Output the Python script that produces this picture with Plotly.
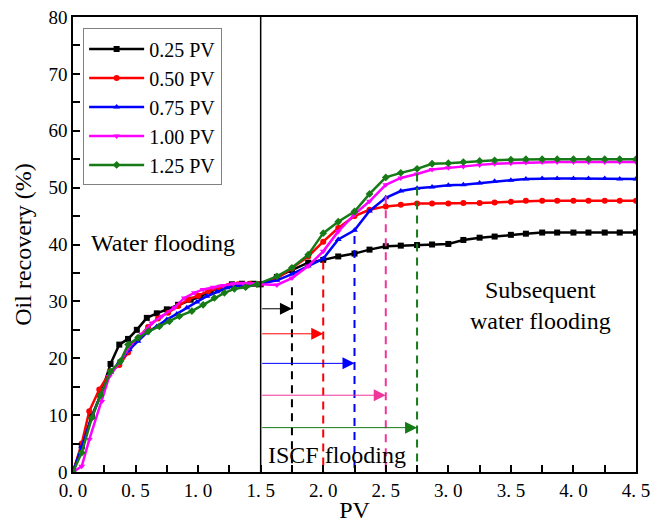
import plotly.graph_objects as go

# ---------------- data ----------------
series_names = ["0.25 PV", "0.50 PV", "0.75 PV", "1.00 PV", "1.25 PV"]

x_025 = [0, 0.07, 0.15, 0.22, 0.30, 0.37, 0.44, 0.51, 0.59, 0.67, 0.75, 0.84, 0.94, 1.02, 1.10, 1.18,
         1.27, 1.35, 1.44, 1.50, 1.63, 1.75, 1.88, 2.00, 2.12, 2.25, 2.37, 2.50, 2.62, 2.75, 2.87, 3.00,
         3.12, 3.25, 3.37, 3.50, 3.62, 3.75, 3.87, 4.00, 4.12, 4.25, 4.37, 4.50]
y_025 = [0, 4.5, 9.8, 13.5, 19.0, 22.4, 23.4, 25.0, 27.1, 27.9, 28.6, 29.4, 30.3, 30.9, 31.8, 32.4,
         33.0, 33.1, 33.1, 33.0, 34.3, 35.5, 36.8, 37.3, 37.9, 38.4, 39.1, 39.7, 39.8, 39.9, 40.0, 40.1,
         40.8, 41.2, 41.4, 41.7, 41.9, 42.1, 42.1, 42.1, 42.1, 42.1, 42.1, 42.1]

x_050 = [0, 0.07, 0.13, 0.21, 0.30, 0.37, 0.44, 0.52, 0.60, 0.68, 0.76, 0.84, 0.92, 1.00, 1.08, 1.16,
         1.24, 1.32, 1.41, 1.50, 1.63, 1.75, 1.88, 2.00, 2.12, 2.25, 2.37, 2.50, 2.62, 2.75, 2.87, 3.00,
         3.12, 3.25, 3.37, 3.50, 3.62, 3.75, 3.87, 4.00, 4.12, 4.25, 4.37, 4.50]
y_050 = [0, 5.0, 10.7, 14.5, 17.7, 18.8, 21.0, 23.5, 25.5, 27.0, 28.0, 29.2, 30.3, 31.0, 31.8, 32.3,
         32.7, 33.0, 33.1, 33.1, 34.0, 35.8, 37.9, 40.5, 42.9, 45.0, 46.1, 46.7, 47.0, 47.2, 47.2, 47.2,
         47.3, 47.3, 47.4, 47.5, 47.7, 47.7, 47.7, 47.7, 47.7, 47.7, 47.7, 47.7]

x_075 = [0, 0.07, 0.15, 0.22, 0.30, 0.37, 0.45, 0.52, 0.59, 0.67, 0.75, 0.83, 0.91, 0.99, 1.07, 1.15,
         1.23, 1.31, 1.40, 1.50, 1.63, 1.75, 1.88, 2.00, 2.12, 2.25, 2.37, 2.50, 2.62, 2.75, 2.87, 3.00,
         3.12, 3.25, 3.37, 3.50, 3.62, 3.75, 3.87, 4.00, 4.12, 4.25, 4.37, 4.50]
y_075 = [0, 4.5, 9.6, 13.5, 17.5, 19.3, 21.5, 23.0, 24.5, 25.6, 26.8, 27.8, 28.9, 29.9, 30.9, 31.7,
         32.4, 32.8, 33.0, 33.1, 33.7, 34.8, 36.2, 37.5, 40.9, 42.5, 45.9, 48.2, 49.4, 49.9, 50.1, 50.4,
         50.5, 50.8, 51.1, 51.3, 51.5, 51.6, 51.6, 51.6, 51.6, 51.6, 51.5, 51.5]

x_100 = [0, 0.07, 0.13, 0.23, 0.29, 0.38, 0.47, 0.55, 0.63, 0.71, 0.81, 0.89, 0.97, 1.04, 1.12, 1.20,
         1.28, 1.36, 1.45, 1.50, 1.63, 1.75, 1.88, 2.00, 2.12, 2.25, 2.37, 2.50, 2.62, 2.75, 2.87, 3.00,
         3.12, 3.25, 3.37, 3.50, 3.62, 3.75, 3.87, 4.00, 4.12, 4.25, 4.37, 4.50]
y_100 = [0, 1.0, 5.7, 12.4, 16.8, 19.5, 22.7, 24.2, 26.2, 27.4, 28.9, 30.6, 31.5, 32.1, 32.5, 32.8,
         33.1, 33.2, 33.1, 33.0, 32.9, 34.1, 36.2, 38.8, 42.3, 45.3, 47.6, 50.5, 51.7, 52.4, 53.2, 53.5,
         53.7, 54.0, 54.2, 54.3, 54.4, 54.5, 54.5, 54.5, 54.5, 54.5, 54.5, 54.5]

x_125 = [0, 0.07, 0.15, 0.22, 0.30, 0.38, 0.44, 0.52, 0.60, 0.69, 0.77, 0.85, 0.95, 1.04, 1.13, 1.21,
         1.29, 1.38, 1.47, 1.63, 1.75, 1.88, 2.00, 2.12, 2.25, 2.37, 2.50, 2.62, 2.75, 2.87, 3.00,
         3.12, 3.25, 3.37, 3.50, 3.62, 3.75, 3.87, 4.00, 4.12, 4.25, 4.37, 4.50]
y_125 = [0, 3.4, 9.5, 13.5, 17.7, 19.5, 22.4, 23.6, 24.7, 25.6, 26.5, 27.4, 28.3, 29.4, 30.6, 31.5,
         32.2, 32.5, 33.0, 34.4, 35.9, 38.2, 42.0, 44.0, 45.8, 48.9, 51.8, 52.6, 53.3, 54.2, 54.3,
         54.5, 54.7, 54.8, 54.9, 55.0, 55.0, 55.0, 55.0, 55.0, 55.0, 55.0, 55.0]

# end of ISCF injection for each slug, and where its guide line starts
slug_end_pv = [1.75, 2.00, 2.25, 2.50, 2.75]
guide_top = [32.5, 37.0, 41.5, 48.5, 52.5]
arrow_level = [28.7, 24.3, 19.1, 13.5, 7.8]
switch_pv = 1.5

x_ticks = [0.0, 0.5, 1.0, 1.5, 2.0, 2.5, 3.0, 3.5, 4.0, 4.5]
x_tick_text = ["0. 0", "0. 5", "1. 0", "1. 5", "2. 0", "2. 5", "3. 0", "3. 5", "4. 0", "4. 5"]
y_ticks = [0, 10, 20, 30, 40, 50, 60, 70, 80]

# ---------------- styling ----------------
line_colors = ["#000000", "#ff0000", "#0000ff", "#ff00ff", "#167a16"]
guide_colors = ["#000000", "#ff0000", "#0000ff", "#f0359a", "#167a16"]
symbols = ["square", "circle", "triangle-up", "triangle-down", "diamond"]
FONT = "Liberation Serif, Times New Roman, serif"

xs = [x_025, x_050, x_075, x_100, x_125]
ys = [y_025, y_050, y_075, y_100, y_125]

fig = go.Figure()

for name, x, y, c, s in zip(series_names, xs, ys, line_colors, symbols):
    fig.add_trace(go.Scatter(
        x=x, y=y, name=name, mode="lines+markers",
        line=dict(color=c, width=2.5),
        marker=dict(symbol=s, size=6, color=c),
    ))

# dashed guides marking the end of each ISCF slug
for xe, yt, c in zip(slug_end_pv, guide_top, guide_colors):
    fig.add_trace(go.Scatter(
        x=[xe, xe], y=[yt, 0], mode="lines", showlegend=False, hoverinfo="skip",
        line=dict(color=c, width=2, dash="8px,6px"),
    ))

# switch from water flooding to ISCF flooding
fig.add_trace(go.Scatter(
    x=[switch_pv, switch_pv], y=[0, 80], mode="lines", showlegend=False, hoverinfo="skip",
    line=dict(color="#000000", width=1.5),
))

# horizontal arrows spanning each slug
for xe, ya, c in zip(slug_end_pv, arrow_level, guide_colors):
    fig.add_annotation(
        x=xe, y=ya, ax=switch_pv, ay=ya, xref="x", yref="y", axref="x", ayref="y",
        text="", showarrow=True, arrowhead=2, arrowsize=2.4, arrowwidth=1, arrowcolor=c,
        standoff=0, startstandoff=0,
    )

# phase labels
fig.add_annotation(x=0.72, y=40.2, xref="x", yref="y", text="Water flooding",
                   showarrow=False, font=dict(family=FONT, size=24, color="#000"))
fig.add_annotation(x=2.11, y=3.0, xref="x", yref="y", text="ISCF flooding",
                   showarrow=False, font=dict(family=FONT, size=24, color="#000"))
fig.add_annotation(x=3.74, y=29.2, xref="x", yref="y", text="Subsequent<br>water flooding",
                   showarrow=False, align="center",
                   font=dict(family=FONT, size=24, color="#000"))

axis_common = dict(
    showline=True, linecolor="#000", linewidth=1.5, mirror=True,
    ticks="inside", ticklen=7, tickwidth=1.5, tickcolor="#000",
    showgrid=False, zeroline=False, automargin=False,
    tickfont=dict(family=FONT, size=19, color="#000"),
)

fig.update_xaxes(
    range=[0, 4.5], tickvals=x_ticks, ticktext=x_tick_text,
    minor=dict(ticks="inside", ticklen=7, tickwidth=1.5, tickcolor="#000", dtick=0.25, tick0=0),
    title=dict(text="PV", font=dict(family=FONT, size=24, color="#000"), standoff=2),
    **axis_common,
)
fig.update_yaxes(
    range=[0, 80], tickvals=y_ticks,
    minor=dict(ticks="inside", ticklen=7, tickwidth=1.5, tickcolor="#000", dtick=5, tick0=0),
    title=dict(text="Oil recovery (%)", font=dict(family=FONT, size=24, color="#000"), standoff=10),
    **axis_common,
)

fig.update_layout(
    width=652, height=529,
    margin=dict(l=73, r=16, t=17, b=57),
    paper_bgcolor="#ffffff", plot_bgcolor="#ffffff",
    showlegend=True,
    legend=dict(
        x=0.018, y=0.975, xanchor="left", yanchor="top",
        bgcolor="#ffffff", bordercolor="#808080", borderwidth=1,
        font=dict(family=FONT, size=20, color="#000"),
        itemwidth=55, tracegroupgap=0,
    ),
)

fig.write_html("out.html")
